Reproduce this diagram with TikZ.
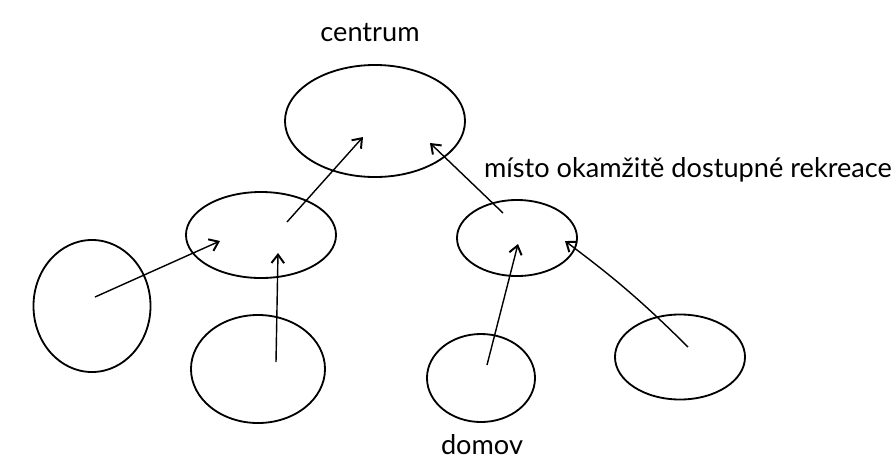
\documentclass[tikz,border=0pt]{standalone}
\usepackage{fontspec}
\setmainfont{Lato}
\usetikzlibrary{arrows.meta,shapes.geometric}

\begin{document}
\begin{tikzpicture}[x=0.025cm,y=-0.025cm,
  blob/.style={ellipse,draw,line width=1.3pt,inner sep=0pt,outer sep=0pt},
  arr/.style={-{Straight Barb[length=6pt,width=9pt,line width=1.4pt]},line width=1pt},
  lbl/.style={font=\fontsize{19.3}{22}\selectfont}]
\useasboundingbox (0,0) rectangle (896,462);
% the blobs
\node [blob,minimum width=4.5cm,minimum height=2.8cm] (centrum) at (375,121) {};
\node [blob,minimum width=3.75cm,minimum height=2.15cm] (vlevo) at (261,235) {};
\node [blob,minimum width=3cm,minimum height=1.9cm] (rekreace) at (517,238) {};
\node [blob,minimum width=2.925cm,minimum height=3.3cm] (vlevo1) at (92,306) {};
\node [blob,minimum width=3.35cm,minimum height=2.7cm] (vlevo2) at (258,369) {};
\node [blob,minimum width=2.7cm,minimum height=2.2cm] (domov) at (481,378) {};
\node [blob,minimum width=3.25cm,minimum height=2.125cm] (vpravo) at (680,357) {};
% labels
\node [lbl] (tc) at (370,32) {centrum};
\node [lbl] (tr) at (688,170) {místo okamžitě dostupné rekreace};
\node [lbl] (td) at (482,445) {domov};
% arrows
\draw [arr] ([shift={(3,-9)}]vlevo1.center) -- ([shift={(-41,6)}]vlevo.center);
\draw [arr] ([shift={(18,-7)}]vlevo2.center) -- ([shift={(17,18)}]vlevo.center);
\draw [arr] ([shift={(26,-13)}]vlevo.center) -- ([shift={(-12,16)}]centrum.center);
\draw [arr] ([shift={(-14,-25)}]rekreace.center) -- ([shift={(55,22)}]centrum.center);
\draw [arr] ([shift={(6,-13)}]domov.center) -- ([shift={(1,6)}]rekreace.center);
\draw [arr] ([shift={(8,-10)}]vpravo.center) to[bend right=4] ([shift={(48,3)}]rekreace.center);
\end{tikzpicture}
\end{document}
